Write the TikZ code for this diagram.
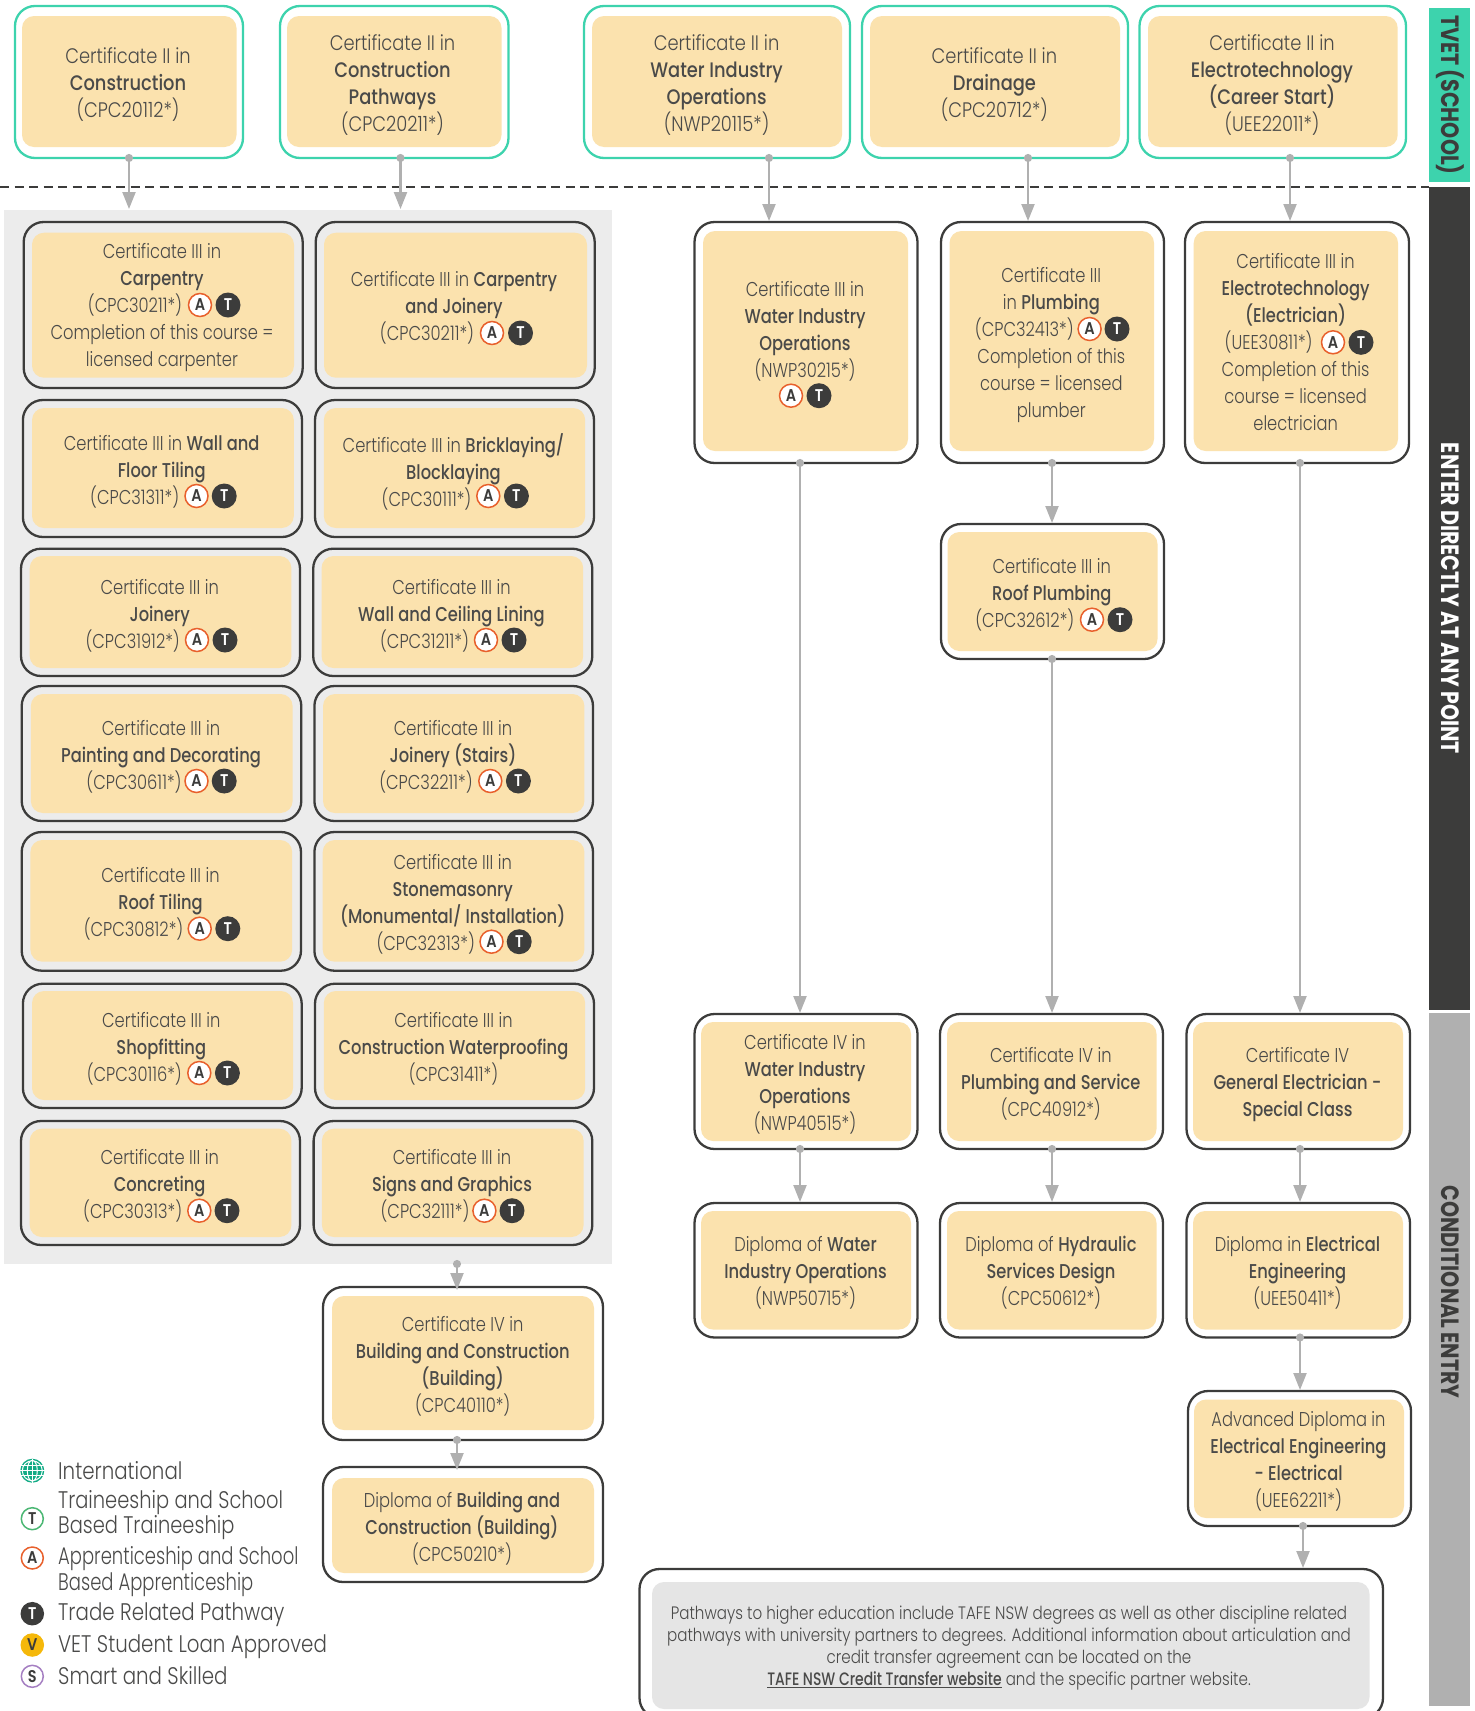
\documentclass[tikz,border=0pt]{standalone}
\usepackage{fontspec}
\setmainfont{Poppins}[UprightFont=* Light,BoldFont=* Medium,FakeStretch=0.815]
\newfontfamily\bigfont{Poppins}[UprightFont=* Light,BoldFont=* Medium,FakeStretch=0.85]
\newfontfamily\notefont{Poppins}[UprightFont=* Light,BoldFont=* Medium,FakeStretch=0.84]
\newfontfamily\notebold{Poppins}[UprightFont=* Medium,FakeStretch=0.775]
\newfontfamily\legfont{Poppins}[UprightFont=* Light,FakeStretch=0.825]
\newfontfamily\legfontB{Poppins}[UprightFont=* Light,FakeStretch=0.81]
\newfontfamily\legfontC{Poppins}[UprightFont=* Light,FakeStretch=0.75]
\newfontfamily\barfont{Poppins}[UprightFont=* Bold,FakeStretch=0.82]
\newfontfamily\badgefont{Poppins}[UprightFont=* SemiBold,FakeStretch=0.85]
\usetikzlibrary{arrows.meta}
\definecolor{peach}{HTML}{FBE2AE}
\definecolor{teal2}{HTML}{3DD3AD}
\definecolor{dark2}{HTML}{3C3C3B}
\definecolor{gray2}{HTML}{B0B0B0}
\definecolor{panel2}{HTML}{ECECEC}
\definecolor{note2}{HTML}{E5E5E5}
\definecolor{orange2}{HTML}{E8602C}
\definecolor{green2}{HTML}{4CB774}
\definecolor{yellow2}{HTML}{F5B80A}
\definecolor{purple2}{HTML}{A57FC2}
\definecolor{globe2}{HTML}{12AB85}
\definecolor{txt2}{HTML}{4A4A49}
\newcommand\stT{\rule{0pt}{25pt}}
\newcommand\stB{\rule[-11pt]{0pt}{11pt}}
\newcommand\bd{\rule{54pt}{0pt}}
\newcommand\cardO[6]{\pgfmathsetmacro\bw{#5-#3}\pgfmathsetmacro\bh{#6-#4}%
  \node[#2,minimum width=\bw pt,minimum height=\bh pt] (#1) at ({(#3+#5)/2},{(#4+#6)/2}) {};}
\newcommand\cardI[5]{\pgfmathsetmacro\bw{#4-#2}\pgfmathsetmacro\bh{#5-#3}%
  \node[innerbox,minimum width=\bw pt,minimum height=\bh pt] (#1i) at ({(#2+#4)/2},{(#3+#5)/2}) {};}
\newcommand\cardT[5][lab]{\node[#1] (#2t) at (#3,#4) {#5};}
\newcommand\badgeAT[4]{\node[badgeA] (#1a) at (#2,#4) {A};\node[badgeT] (#1b) at (#3,#4) {T};}
\newcommand\conn[4][]{\coordinate (cx) at (#4,0);\draw[conn,#1] (#2.south -| cx) -- (#3.north -| cx);}
\tikzset{
  lineO/.style={rectangle,rounded corners=20pt,inner sep=0pt,outer sep=0pt,line width=2.3pt},
  panelcard/.style={lineO,draw=dark2},
  whitecard/.style={lineO,draw=dark2,fill=white},
  tealcard/.style={lineO,draw=teal2,fill=white},
  innerbox/.style={rectangle,rounded corners=12pt,inner sep=0pt,outer sep=0pt,fill=peach},
  lab/.style={align=center,inner sep=0pt,text=txt2,yshift=-5.8pt,font=\fontsize{20}{27}\selectfont,
    execute at begin node=\stT,execute at end node=\stB},
  labbig/.style={lab,font=\bigfont\fontsize{21}{27}\selectfont},
  badgeA/.style={circle,draw=orange2,fill=white,line width=1.5pt,minimum size=23pt,inner sep=0pt,text=dark2,font=\badgefont\fontsize{17}{17}\selectfont},
  badgeT/.style={circle,fill=dark2,minimum size=25pt,inner sep=0pt,text=white,font=\badgefont\fontsize{17}{17}\selectfont},
  legring/.style={circle,fill=white,line width=1.5pt,minimum size=22pt,inner sep=0pt,text=dark2,font=\badgefont\fontsize{17}{17}\selectfont},
  legtext/.style={anchor=west,align=left,inner sep=0pt,text=txt2,font=\legfont\fontsize{24}{24}\selectfont},
  conn/.style={draw=gray2,line width=2.2pt,{Circle[length=8pt]}-{Triangle[length=17pt,width=13pt]},shorten <=-4pt,shorten >=1pt},
  sidebar/.style={rectangle,inner sep=0pt,outer sep=0pt},
  bartext/.style={rotate=-90,inner sep=0pt,font=\barfont\fontsize{25}{25}\selectfont},
}
\begin{document}
\begin{tikzpicture}[x=1pt,y=-1pt]
\useasboundingbox (0,0) rectangle (1475,1711);
% panel, side bars, dashed line
\cardO{panel}{sidebar,fill=panel2}{4}{210}{612}{1264}
\cardO{barA}{sidebar,fill=teal2}{1428.5}{8}{1470}{182}
\cardO{barB}{sidebar,fill=dark2}{1428.5}{187}{1470}{1010}
\cardO{barC}{sidebar,fill=gray2}{1428.5}{1013}{1470}{1706}
\node[bartext,text=dark2] (barAt) at (1450,95) {TVET (SCHOOL)};
\node[bartext,text=white] (barBt) at (1450,598.5) {ENTER DIRECTLY AT ANY POINT};
\node[bartext,text=dark2] (barCt) at (1450,1292) {CONDITIONAL ENTRY};
\coordinate (dashL) at (0,187);\coordinate (dashR) at (1428.5,187);
\draw[dark2,line width=1.8pt,dash pattern=on 9pt off 5.5pt] (dashL) -- (dashR);
% top row
\cardO{s1}{tealcard}{15}{6}{243}{158}\cardI{s1}{22}{16}{236.5}{147}
\cardT[labbig]{s1}{128}{82}{Certificate II in\\\textbf{Construction}\\(CPC20112*)}
\cardO{s2}{tealcard}{280}{6}{508.5}{158}\cardI{s2}{287}{16}{501.5}{147}
\cardT[labbig]{s2}{392.5}{82.5}{Certificate II in\\\textbf{Construction}\\\textbf{Pathways}\\(CPC20211*)}
\cardO{s3}{tealcard}{584}{6}{850}{158}\cardI{s3}{592}{16}{842}{147}
\cardT[labbig]{s3}{716.6}{82.5}{Certificate II in\\\textbf{Water Industry}\\\textbf{Operations}\\(NWP20115*)}
\cardO{s4}{tealcard}{862}{6}{1128}{158}\cardI{s4}{870}{16}{1120}{147}
\cardT[labbig]{s4}{994.4}{82}{Certificate II in\\\textbf{Drainage}\\(CPC20712*)}
\cardO{s5}{tealcard}{1139.5}{6}{1406}{158}\cardI{s5}{1148}{16}{1397.7}{147}
\cardT[labbig]{s5}{1272}{82.5}{Certificate II in\\\textbf{Electrotechnology}\\\textbf{(Career Start)}\\(UEE22011*)}
% left column
\cardO{a1}{panelcard}{23.7}{222}{302.7}{388}\cardI{a1}{32}{232.7}{294}{377.7}
\cardT{a1}{162}{305}{Certificate III in\\\textbf{Carpentry}\\(CPC30211*)\bd\\Completion of this course =\\licensed carpenter}
\badgeAT{a1}{200}{228}{305}
\cardO{b1}{panelcard}{315.7}{222}{594.7}{388}\cardI{b1}{324}{232.7}{587}{377.7}
\cardT{b1}{454}{306}{Certificate III in \textbf{Carpentry}\\\textbf{and Joinery}\\(CPC30211*)\bd}
\badgeAT{b1}{492}{520.5}{333}
\cardO{a2}{panelcard}{22.9}{400}{302}{537}\cardI{a2}{32}{408}{293.8}{528}
\cardT{a2}{161.7}{469.3}{Certificate III in \textbf{Wall and}\\\textbf{Floor Tiling}\\(CPC31311*)\bd}
\badgeAT{a2}{196.5}{224.2}{496}
\cardO{b2}{panelcard}{315}{400}{594}{537}\cardI{b2}{323.8}{408}{585.2}{528}
\cardT{b2}{453.5}{469.3}{Certificate III in \textbf{Bricklaying/}\\\textbf{Blocklaying}\\(CPC30111*)\bd}
\badgeAT{b2}{488.3}{516.4}{496}
\cardO{a3}{panelcard}{21}{548.7}{300}{676}\cardI{a3}{29.7}{556}{291.4}{668}
\cardT{a3}{159.7}{613.3}{Certificate III in\\\textbf{Joinery}\\(CPC31912*)\bd}
\badgeAT{a3}{197}{225}{640}
\cardO{b3}{panelcard}{313.2}{548.7}{592.3}{676}\cardI{b3}{321.5}{556}{583.2}{668}
\cardT{b3}{451.5}{613.3}{Certificate III in\\\textbf{Wall and Ceiling Lining}\\(CPC31211*)\bd}
\badgeAT{b3}{486}{514}{640}
\cardO{a4}{panelcard}{21.7}{686}{301.3}{821}\cardI{a4}{30.8}{694}{292.6}{813}
\cardT{a4}{161}{754.3}{Certificate III in\\\textbf{Painting and Decorating}\\(CPC30611*)\bd}
\badgeAT{a4}{196.5}{224.2}{781}
\cardO{b4}{panelcard}{314.4}{686}{593}{821}\cardI{b4}{323}{694}{584.4}{813}
\cardT{b4}{453}{754.3}{Certificate III in\\\textbf{Joinery (Stairs)}\\(CPC32211*)\bd}
\badgeAT{b4}{490.3}{518.4}{781}
\cardO{a5}{panelcard}{21.7}{832}{301}{970.7}\cardI{a5}{30.4}{840}{292.2}{961.7}
\cardT{a5}{160.5}{901.7}{Certificate III in\\\textbf{Roof Tiling}\\(CPC30812*)\bd}
\badgeAT{a5}{199.7}{227.8}{928.7}
\cardO{b5}{panelcard}{314.4}{832}{593}{970.7}\cardI{b5}{322.7}{840}{584.4}{961.7}
\cardT{b5}{452.7}{901.7}{Certificate III in\\\textbf{Stonemasonry}\\\textbf{(Monumental/ Installation)}\\(CPC32313*)\bd}
\badgeAT{b5}{491.5}{519.2}{941.7}
\cardO{a6}{panelcard}{22.9}{983.7}{301.7}{1108}\cardI{a6}{32}{991}{293}{1100}
\cardT{a6}{161.3}{1046.7}{Certificate III in\\\textbf{Shopfitting}\\(CPC30116*)\bd}
\badgeAT{a6}{199.3}{227.4}{1073}
\cardO{b6}{panelcard}{315}{983.7}{594}{1108}\cardI{b6}{323.8}{991}{585.2}{1100}
\cardT{b6}{453.5}{1046.7}{Certificate III in\\\textbf{Construction Waterproofing}\\(CPC31411*)}
\cardO{a7}{panelcard}{21}{1121}{300}{1245}\cardI{a7}{29.7}{1128.7}{291.4}{1237}
\cardT{a7}{159.7}{1183.7}{Certificate III in\\\textbf{Concreting}\\(CPC30313*)\bd}
\badgeAT{a7}{199.3}{227}{1210.7}
\cardO{b7}{panelcard}{313.6}{1121}{592.3}{1245}\cardI{b7}{321.9}{1128.7}{583.6}{1237}
\cardT{b7}{452}{1183.7}{Certificate III in\\\textbf{Signs and Graphics}\\(CPC32111*)\bd}
\badgeAT{b7}{484.4}{512}{1210.7}
\cardO{c1}{whitecard}{323}{1287}{603}{1440}\cardI{c1}{332}{1296}{594}{1430}
\cardT{c1}{462.7}{1363.8}{Certificate IV in\\\textbf{Building and Construction}\\\textbf{(Building)}\\(CPC40110*)}
\cardO{c2}{whitecard}{323}{1467}{603}{1582}\cardI{c2}{332}{1478}{594}{1573}
\cardT{c2}{462}{1526}{Diploma of \textbf{Building and}\\\textbf{Construction (Building)}\\(CPC50210*)}
% right columns
\cardO{p1}{whitecard}{694.5}{222}{917.5}{463}\cardI{p1}{703}{231}{908}{451}
\cardT{p1}{805}{342.3}{Certificate III in\\\textbf{Water Industry}\\\textbf{Operations}\\(NWP30215*)\\}
\badgeAT{p1}{791}{819}{395.7}
\cardO{q1}{whitecard}{941}{222}{1164}{463}\cardI{q1}{949.5}{231}{1154}{451}
\cardT{q1}{1051.3}{342}{Certificate III\\in \textbf{Plumbing}\\(CPC32413*)\bd\\Completion of this\\course = licensed\\plumber}
\badgeAT{q1}{1089.6}{1117}{329}
\cardO{r1}{whitecard}{1185}{222}{1409}{463}\cardI{r1}{1193.7}{231}{1398}{451}
\cardT{r1}{1295.6}{342}{Certificate III in\\\textbf{Electrotechnology}\\\textbf{(Electrician)}\\(UEE30811*)\bd\\Completion of this\\course = licensed\\electrician}
\badgeAT{r1}{1333}{1361}{342.3}
\cardO{q2}{whitecard}{941}{524}{1164}{659}\cardI{q2}{947.5}{532}{1157.5}{651}
\cardT{q2}{1051.8}{593}{Certificate III in\\\textbf{Roof Plumbing}\\(CPC32612*)\bd}
\badgeAT{q2}{1092}{1120}{619.7}
\cardO{p3}{whitecard}{694.5}{1014}{917.5}{1149}\cardI{p3}{701}{1022}{911}{1141}
\cardT{p3}{805}{1082}{Certificate IV in\\\textbf{Water Industry}\\\textbf{Operations}\\(NWP40515*)}
\cardO{q3}{whitecard}{940}{1014}{1163}{1149}\cardI{q3}{947}{1022}{1156.5}{1141}
\cardT{q3}{1050.8}{1082}{Certificate IV in\\\textbf{Plumbing and Service}\\(CPC40912*)}
\cardO{r3}{whitecard}{1186.5}{1014}{1410}{1149}\cardI{r3}{1193}{1022}{1403}{1141}
\cardT{r3}{1297.5}{1082}{Certificate IV\\\textbf{General Electrician -}\\\textbf{Special Class}}
\cardO{p4}{whitecard}{694.5}{1203}{917.5}{1337.5}\cardI{p4}{701}{1211}{911}{1329.5}
\cardT{p4}{805.5}{1270.7}{Diploma of \textbf{Water}\\\textbf{Industry Operations}\\(NWP50715*)}
\cardO{q4}{whitecard}{940}{1203}{1163}{1337.5}\cardI{q4}{947}{1211}{1156.5}{1329.5}
\cardT{q4}{1051}{1270.7}{Diploma of \textbf{Hydraulic}\\\textbf{Services Design}\\(CPC50612*)}
\cardO{r4}{whitecard}{1186.5}{1203}{1410}{1337.5}\cardI{r4}{1193}{1211}{1403}{1329.5}
\cardT{r4}{1297.5}{1270.7}{Diploma in \textbf{Electrical}\\\textbf{Engineering}\\(UEE50411*)}
\cardO{r5}{whitecard}{1188}{1391}{1411}{1526}\cardI{r5}{1194}{1399.5}{1404}{1518}
\cardT{r5}{1298.5}{1459}{Advanced Diploma in\\\textbf{Electrical Engineering}\\\textbf{- Electrical}\\(UEE62211*)}
% note
\cardO{nt}{whitecard}{639.5}{1569}{1383}{1718}
\node[fill=note2,rectangle,rounded corners=12pt,inner sep=0pt,minimum width=717.5pt,minimum height=127pt] (nti) at (1010.75,1645.5) {};
\node[align=center,inner sep=0pt,text=txt2,font=\notefont\fontsize{18}{22}\selectfont] (ntt) at (1009,1648) {Pathways to higher education include TAFE NSW degrees as well as other discipline related\\pathways with university partners to degrees. Additional information about articulation and\\credit transfer agreement can be located on the\\\underline{{\notebold TAFE NSW Credit Transfer website}} and the specific partner website.};
% connectors
\conn{s1}{panel}{129}
\conn{s2}{panel}{400.5}
\conn{s3}{p1}{769}
\conn{s4}{q1}{1028}
\conn{s5}{r1}{1290}
\conn[shorten >=-3pt]{panel}{c1}{457}
\conn[shorten >=-3pt]{c1}{c2}{457}
\conn{p1}{p3}{800}
\conn{q1}{q2}{1052}
\conn{q2}{q3}{1052}
\conn{r1}{r3}{1300}
\conn{p3}{p4}{800}
\conn{q3}{q4}{1052}
\conn{r3}{r4}{1300}
\conn{r4}{r5}{1300}
\conn{r5}{nt}{1303}
% legend
\node[circle,fill=globe2,minimum size=24pt,inner sep=0pt] (lg1) at (32.3,1470.7) {};
\draw[white,line width=1pt] (lg1.center) circle[x radius=5pt,y radius=10.5pt] (lg1.center) circle[radius=10pt];
\draw[white,line width=1pt] (lg1.west) -- (lg1.east) (lg1.north) -- (lg1.south);
\draw[white,line width=1pt] ([yshift=-5pt]lg1.west) -- ([yshift=-5pt]lg1.east) ([yshift=5pt]lg1.west) -- ([yshift=5pt]lg1.east);
\node[legtext] (lt1) at (58,1470.7) {International};
\node[legring,draw=green2] (lg2) at (32.3,1518.7) {T};
\node[legtext,font=\legfontB\fontsize{24}{24}\selectfont] (lt2) at (58,1515) {Traineeship and School\\Based Traineeship};
\node[legring,draw=orange2] (lg3) at (32.3,1558) {A};
\node[legtext,font=\legfontC\fontsize{24}{24}\selectfont] (lt3) at (58,1571.5) {Apprenticeship and School\\Based Apprenticeship};
\node[legring,draw=dark2,fill=dark2,text=white] (lg4) at (32.3,1613.7) {T};
\node[legtext] (lt4) at (58,1615) {Trade Related Pathway};
\node[legring,draw=yellow2,fill=yellow2] (lg5) at (32.3,1645) {V};
\node[legtext] (lt5) at (58,1647) {VET Student Loan Approved};
\node[legring,draw=purple2] (lg6) at (32.3,1676.3) {S};
\node[legtext] (lt6) at (58,1675.7) {Smart and Skilled};
\end{tikzpicture}
\end{document}
